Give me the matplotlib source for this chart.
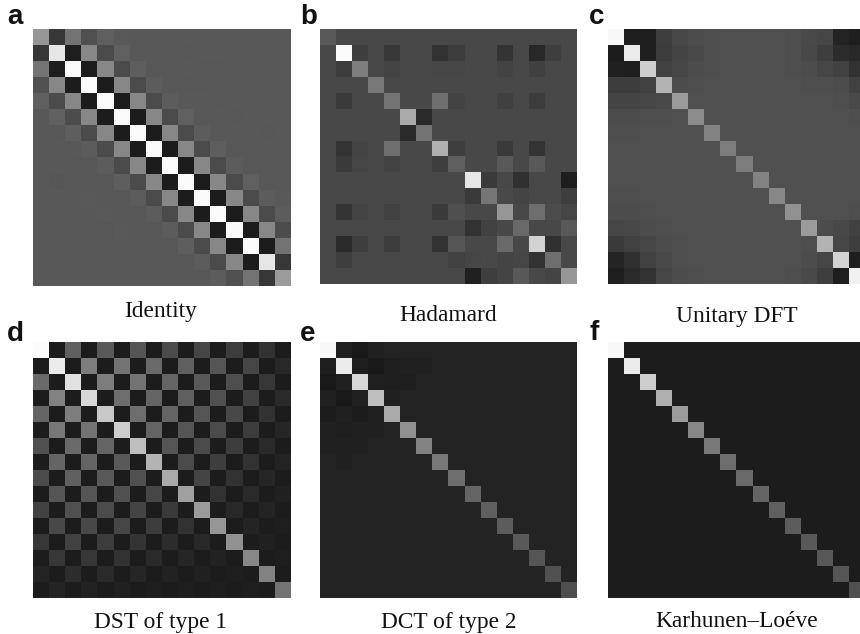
import numpy as np
import matplotlib
matplotlib.use('Agg')
import matplotlib.pyplot as plt

#grey levels (0-255), one list per panel
identity = [
    [150,55,115,80,95,90,88,88,88,88,88,88,88,88,88,88],
    [55,230,30,135,75,96,88,88,88,87,88,88,88,88,88,88],
    [115,30,250,28,135,76,94,88,88,88,87,87,88,88,88,88],
    [80,135,28,250,28,135,75,92,88,87,87,87,88,88,88,88],
    [95,75,135,28,250,28,135,75,92,88,88,87,88,88,88,88],
    [88,96,76,135,28,250,28,135,75,96,88,88,87,88,88,88],
    [88,87,94,75,135,28,250,28,135,75,92,88,88,88,87,88],
    [88,88,88,92,75,135,28,250,28,135,75,94,88,88,88,88],
    [88,88,87,88,92,75,135,28,250,28,135,75,92,88,88,88],
    [88,86,87,88,88,94,75,135,28,250,28,135,75,96,88,88],
    [88,88,88,90,88,88,92,75,135,28,250,28,135,75,92,90],
    [88,88,88,88,90,88,88,92,75,135,28,250,28,135,75,92],
    [88,88,87,88,87,89,88,88,92,75,135,28,250,28,135,76],
    [88,88,88,88,88,88,88,88,88,94,75,135,28,250,28,115],
    [88,88,88,88,88,88,88,88,88,88,92,75,135,28,230,55],
    [88,88,88,88,88,88,88,88,88,88,88,92,80,115,55,155],
]
hadamard = [
    [90,72,72,72,72,72,72,72,72,72,72,72,72,72,72,72],
    [72,250,62,72,55,72,72,50,60,72,72,52,72,40,62,72],
    [72,60,125,72,68,72,72,70,70,72,72,67,72,64,72,72],
    [72,72,72,120,72,72,72,72,72,72,72,72,72,72,72,72],
    [72,58,72,72,115,72,72,110,67,72,72,64,72,60,72,72],
    [72,72,72,72,72,170,42,72,72,72,72,72,72,72,72,72],
    [72,72,72,72,72,42,115,72,72,72,72,72,72,72,72,72],
    [72,52,68,72,110,72,72,175,62,72,72,58,72,52,72,72],
    [72,58,69,72,67,72,72,62,95,72,72,90,72,90,72,72],
    [72,72,72,72,72,72,72,72,72,230,58,72,48,72,72,30],
    [72,72,72,72,72,72,72,72,72,58,118,74,68,72,72,62],
    [72,52,68,72,66,72,72,58,78,72,72,150,72,110,76,70],
    [72,72,72,72,72,72,72,72,72,50,66,72,105,72,72,90],
    [72,42,62,72,60,72,72,50,85,72,72,105,72,210,48,72],
    [72,62,72,72,72,72,72,72,66,70,72,68,70,50,110,72],
    [72,72,72,72,72,72,72,72,72,32,62,68,88,72,68,150],
]
dft = [
    [248,30,30,62,72,76,78,80,80,80,80,78,74,70,35,30],
    [28,235,30,60,68,74,78,80,80,80,80,78,72,62,45,40],
    [32,30,205,66,70,76,78,80,80,80,80,78,76,70,65,50],
    [60,60,66,180,76,78,80,80,80,80,80,80,78,78,76,66],
    [68,68,70,74,155,80,80,80,80,80,80,80,80,80,78,74],
    [76,76,78,78,80,140,80,80,80,80,80,80,80,80,80,78],
    [78,78,80,80,80,80,130,80,80,80,80,80,80,80,80,80],
    [80,80,80,80,80,80,80,125,80,80,80,80,80,80,80,80],
    [80,80,80,80,80,80,80,80,125,80,80,80,80,80,80,80],
    [80,80,80,80,80,80,80,80,80,130,80,80,80,80,80,80],
    [78,78,80,80,80,80,80,80,80,80,135,80,80,80,80,80],
    [76,76,78,80,80,80,80,80,80,80,80,145,80,80,80,78],
    [70,72,76,78,80,80,80,80,80,80,80,80,155,76,72,66],
    [58,66,70,76,78,80,80,80,80,80,80,80,78,180,70,62],
    [36,48,66,74,78,80,80,80,80,80,80,80,76,70,210,30],
    [30,42,50,70,76,78,80,80,80,80,80,78,74,62,30,240],
]
dst = [
    [252,28,95,28,90,28,85,28,75,28,70,28,60,28,50,28],
    [28,235,28,125,28,115,28,105,28,95,28,85,28,70,28,40],
    [105,28,225,28,125,28,115,28,100,28,90,28,78,28,55,28],
    [28,130,28,215,28,110,28,100,28,95,28,80,28,65,28,42],
    [100,28,125,28,200,28,110,28,100,28,85,28,72,28,50,28],
    [28,120,28,115,28,205,28,100,28,85,28,75,28,60,28,38],
    [80,28,105,28,100,28,190,28,85,28,75,28,60,28,42,28],
    [28,100,28,100,28,90,28,180,28,75,28,62,28,50,28,35],
    [75,28,95,28,90,28,80,28,170,28,68,28,50,28,38,28],
    [28,85,28,85,28,80,28,70,28,160,28,50,28,42,28,32],
    [65,28,80,28,75,28,68,28,58,28,155,28,40,28,35,28],
    [28,72,28,72,28,70,28,60,28,50,28,150,28,36,28,30],
    [55,28,65,28,60,28,52,28,45,28,40,28,145,28,32,28],
    [28,55,28,55,28,50,28,42,28,38,28,34,28,135,28,30],
    [36,28,45,28,42,28,38,28,34,28,32,28,30,28,130,28],
    [28,36,28,34,28,32,28,30,28,30,28,30,28,30,28,115],
]
dct = [
    [248,33,24,32,35,35,35,35,35,35,35,35,35,35,35,35],
    [30,235,30,24,30,33,33,35,35,35,35,35,35,35,35,35],
    [24,32,215,32,30,30,35,35,35,35,35,35,35,35,35,35],
    [33,24,32,190,33,35,35,35,35,35,35,35,35,35,35,35],
    [28,32,28,33,170,35,35,35,35,35,35,35,35,35,35,35],
    [33,30,33,33,35,145,35,35,35,35,35,35,35,35,35,35],
    [33,33,33,35,35,35,130,35,35,35,35,35,35,35,35,35],
    [35,32,35,35,35,35,35,120,35,35,35,35,35,35,35,35],
    [35,35,35,35,35,35,35,35,110,35,35,35,35,35,35,35],
    [35,35,35,35,35,35,35,35,35,100,35,35,35,35,35,35],
    [35,35,35,35,35,35,35,35,35,35,95,35,35,35,35,35],
    [35,35,35,35,35,35,35,35,35,35,35,92,35,35,35,35],
    [35,35,35,35,35,35,35,35,35,35,35,35,90,35,35,35],
    [35,35,35,35,35,35,35,35,35,35,35,35,35,85,35,35],
    [35,35,35,35,35,35,35,35,35,35,35,35,35,35,80,35],
    [35,35,35,35,35,35,35,35,35,35,35,35,35,35,35,78],
]
klt = [
    [248,28,28,28,28,28,28,28,28,28,28,28,28,28,28,28],
    [28,235,28,28,28,28,28,28,28,28,28,28,28,28,28,28],
    [28,28,205,28,28,28,28,28,28,28,28,28,28,28,28,28],
    [28,28,28,175,28,28,28,28,28,28,28,28,28,28,28,28],
    [28,28,28,28,155,28,28,28,28,28,28,28,28,28,28,28],
    [28,28,28,28,28,135,28,28,28,28,28,28,28,28,28,28],
    [28,28,28,28,28,28,120,28,28,28,28,28,28,28,28,28],
    [28,28,28,28,28,28,28,110,28,28,28,28,28,28,28,28],
    [28,28,28,28,28,28,28,28,105,28,28,28,28,28,28,28],
    [28,28,28,28,28,28,28,28,28,100,28,28,28,28,28,28],
    [28,28,28,28,28,28,28,28,28,28,95,28,28,28,28,28],
    [28,28,28,28,28,28,28,28,28,28,28,92,28,28,28,28],
    [28,28,28,28,28,28,28,28,28,28,28,28,90,28,28,28],
    [28,28,28,28,28,28,28,28,28,28,28,28,28,88,28,28],
    [28,28,28,28,28,28,28,28,28,28,28,28,28,28,85,28],
    [28,28,28,28,28,28,28,28,28,28,28,28,28,28,28,80],
]

matrices = [identity, hadamard, dft, dst, dct, klt]
letters = ['a', 'b', 'c', 'd', 'e', 'f']
captions = ['Identity', 'Hadamard', 'Unitary DFT', 'DST of type 1', 'DCT of type 2', 'Karhunen\u2013Lo\u00e9ve']

W, H = 860, 634
fig = plt.figure(figsize=(W/100, H/100), dpi=100)

#panel left, top, right, bottom in pixels, then letter x,baseline and caption x,baseline
boxes = [(33, 29, 290, 286), (320, 29, 577, 284), (608, 29, 860, 284),
         (33, 342, 290, 598), (320, 342, 577, 598), (608, 342, 860, 598)]
letter_pos = [(7, 24.5), (300, 24), (589, 24), (7, 341), (300, 341), (590, 340)]
caption_pos = [(161, 317), (448, 321), (737, 322), (161, 628), (449, 628), (737, 627)]

for k in range(6):
    l, t, r, b = boxes[k]
    ax = fig.add_axes([l/W, 1-b/H, (r-l)/W, (b-t)/H])
    ax.imshow(np.array(matrices[k]), cmap='gray', vmin=0, vmax=255, aspect='auto', interpolation='nearest')
    #the right hand panels run off the edge of the page
    ax.set_xlim(-0.5, -0.5+(r-l)/16.0625)
    ax.axis('off')
    fig.text(letter_pos[k][0]/W, 1-letter_pos[k][1]/H, letters[k], family='Liberation Sans',
             fontweight='bold', fontsize=20, ha='left', va='baseline', color='#111111')
    fig.text(caption_pos[k][0]/W, 1-caption_pos[k][1]/H, captions[k], family='Liberation Serif',
             fontsize=16.8, ha='center', va='baseline', color='#111111')

fig.savefig('out.png', dpi=100)
